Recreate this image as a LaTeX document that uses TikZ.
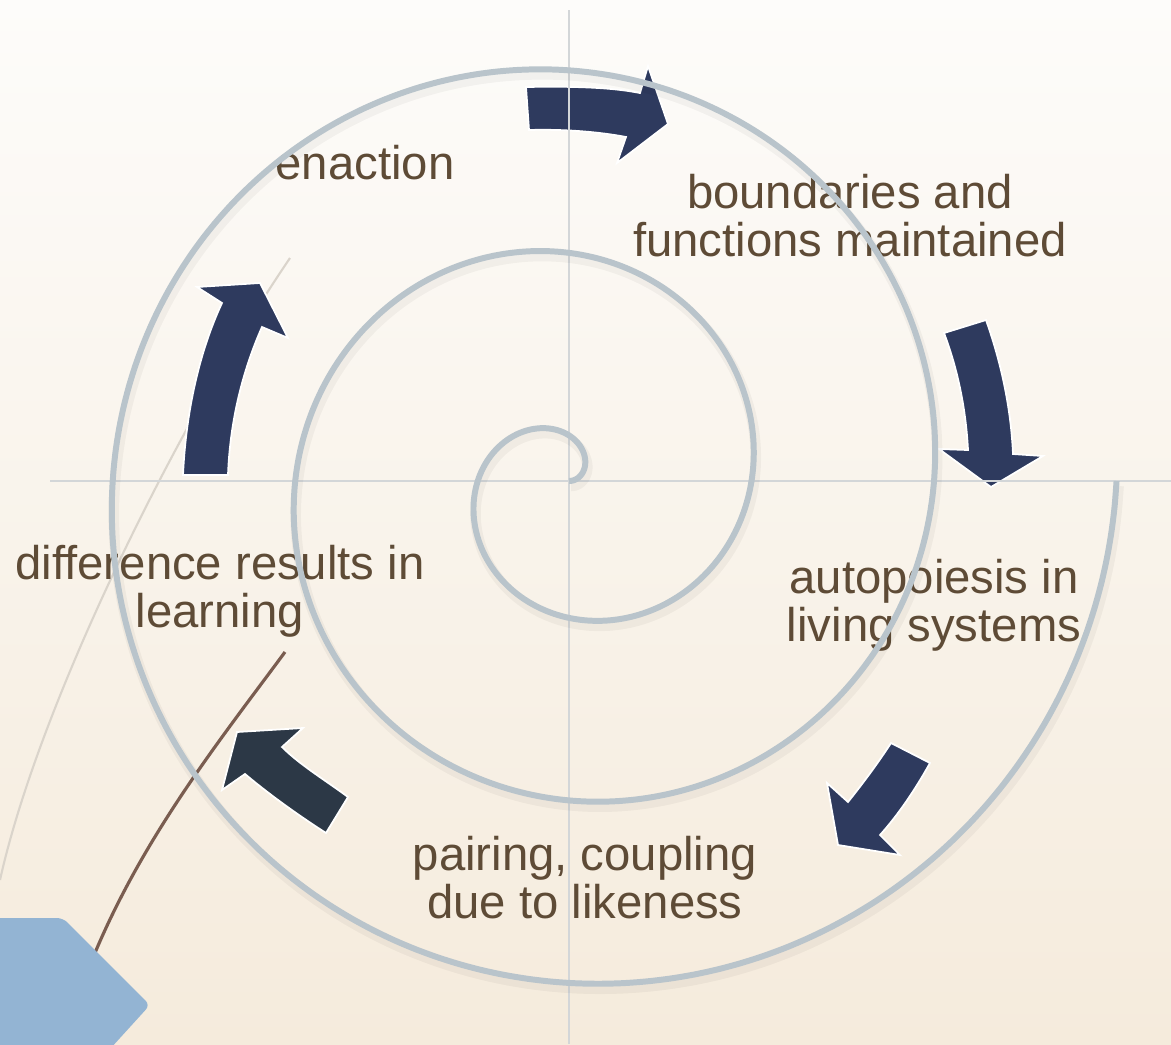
\documentclass[tikz,border=0pt]{standalone}
\usepackage{fontspec}
\setmainfont{Liberation Sans}
\usepackage{xcolor}

\definecolor{bgtop}{HTML}{FDFCFA}
\definecolor{bgmid}{HTML}{FAF6EF}
\definecolor{bgbottom}{HTML}{F5EBDC}
\definecolor{arrownavy}{HTML}{2E3A5E}
\definecolor{arrowslate}{HTML}{2C3846}
\definecolor{spiralgray}{HTML}{B9C4CB}
\definecolor{axisgray}{HTML}{D3D6D8}
\definecolor{labelbrown}{HTML}{5E4B36}
\definecolor{cornerblue}{HTML}{93B4D3}
\definecolor{stembrown}{HTML}{7A5D50}
\definecolor{faintline}{HTML}{DAD4CB}

\begin{document}
\begin{tikzpicture}[
    x=0.1mm, y=-0.1mm,
    every node/.style={font=\fontsize{13.45}{13.7}\selectfont, text=labelbrown,
                       align=center, inner sep=0pt},
    cyclearrow/.style={fill=arrownavy, draw=white, line width=0.5pt},
    spiralline/.style={draw=spiralgray, line width=1.7pt},
    axisline/.style={draw=axisgray, line width=0.6pt},
]

% ── Canvas ───────────────────────────────────────────────────
\clip (0,0) rectangle (1171,1044);
\shade[top color=bgtop, middle color=bgmid, bottom color=bgbottom]
    (0,0) rectangle (1171,1044);

% ── Decorative strokes on the left ───────────────────────────
\draw[faintline, line width=0.6pt]
    (290,258) .. controls (180,420) and (40,700) .. (0,880);
\draw[stembrown, line width=0.9pt]
    (285,652) .. controls (220,740) and (140,840) .. (90,965);
\fill[cornerblue, rounded corners=0.6mm]
    (-20,918) -- (63,918) -- (150,1005) -- (100,1060) -- (-20,1060) -- cycle;

% ── Cycle arrows ─────────────────────────────────────────────
\path[cyclearrow] (526,87) .. controls (580,86) and (615,88) .. (640,93)
    -- (648,66) -- (668,124) -- (617,163) -- (626,137)
    .. controls (600,132) and (565,129) .. (529,130) -- cycle;
\path[cyclearrow] (944,333) -- (986,320)
    .. controls (1002,365) and (1011,410) .. (1013,454)
    -- (1043,456) -- (991,487) -- (939,449) -- (968,450)
    .. controls (966,410) and (958,370) .. (944,333) -- cycle;
\path[cyclearrow] (891,743) -- (930,763)
    .. controls (915,790) and (898,815) .. (880,835)
    -- (900,855) -- (838,845) -- (827,783) -- (848,802)
    .. controls (864,782) and (878,763) .. (891,743) -- cycle;
\path[cyclearrow, fill=arrowslate] (348,797)
    .. controls (325,780) and (300,765) .. (282,747)
    -- (303,728) -- (237,732) -- (222,790) -- (245,774)
    .. controls (270,795) and (298,815) .. (326,833) -- cycle;
\path[cyclearrow] (183,475) -- (228,475)
    .. controls (230,420) and (243,370) .. (262,327)
    -- (288,338) -- (260,283) -- (197,287) -- (222,303)
    .. controls (200,350) and (186,410) .. (183,475) -- cycle;

% ── Stage labels ─────────────────────────────────────────────
\node (enact) at (365,163) {enaction};
\node (bound) at (850,216) {boundaries and\\functions maintained};
\node (auto)  at (934,605) {autopoiesis in\\living systems};
\node (pair)  at (585,878) {pairing, coupling\\due to likeness};
\node (learn) at (220,591) {difference results in\\learning};

% ── Axes ─────────────────────────────────────────────────────
\draw[axisline] (50,481) -- (1171,481);
\draw[axisline] (569,10) -- (569,1044);

% ── Spiral (Archimedean, three turns) ────────────────────────
\draw[black, opacity=0.04, line width=3pt, shift={(2,5)}]
    plot[domain=0:1080, samples=400, smooth]
    ({569+0.507*\x*cos(\x)}, {481-0.507*\x*sin(\x)});
\draw[spiralline]
    plot[domain=0:1080, samples=400, smooth]
    ({569+0.507*\x*cos(\x)}, {481-0.507*\x*sin(\x)});

\end{tikzpicture}
\end{document}
